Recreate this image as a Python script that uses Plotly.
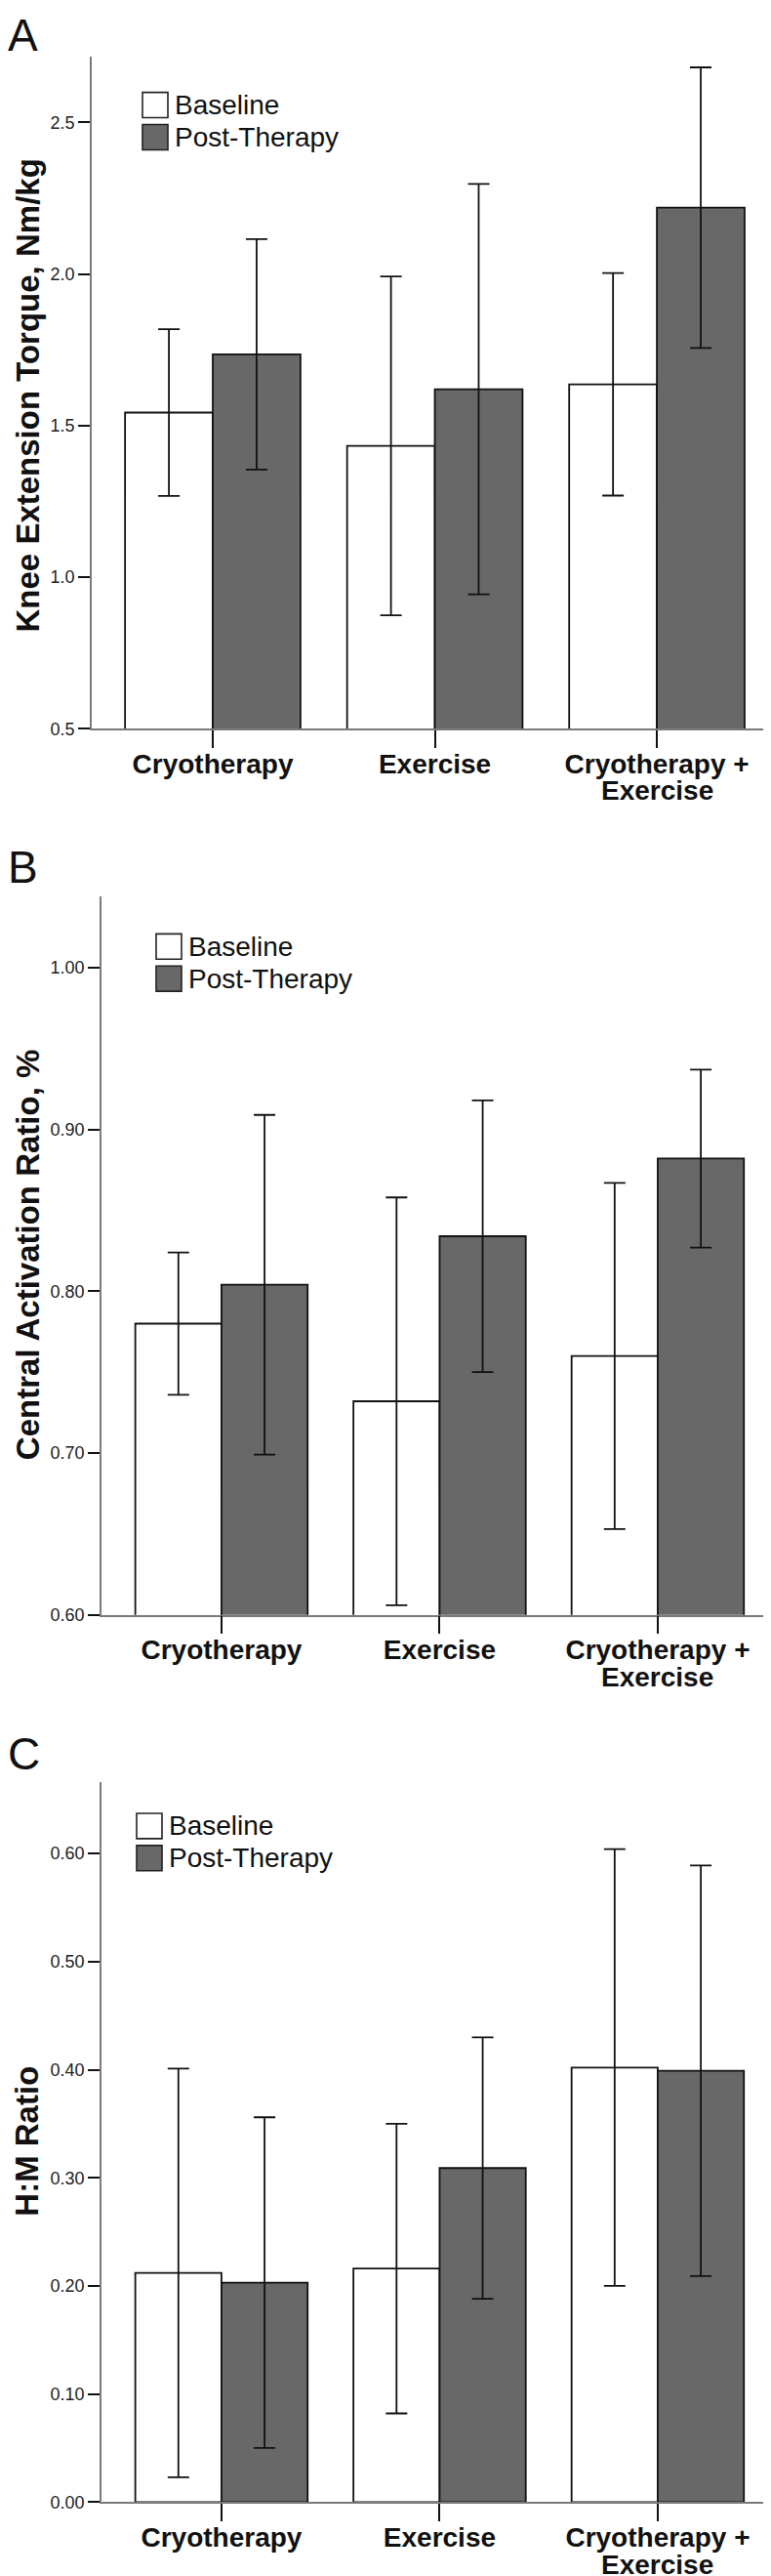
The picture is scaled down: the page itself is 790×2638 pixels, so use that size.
import plotly.graph_objects as go

# ---------------- data ----------------
categories = ["Cryotherapy", "Exercise", "Cryotherapy +<br>Exercise"]
series_names = ["Baseline", "Post-Therapy"]

torque_baseline = [1.543, 1.433, 1.636]
torque_baseline_err = [0.275, 0.559, 0.367]
torque_post = [1.735, 1.620, 2.219]
torque_post_err = [0.380, 0.677, 0.463]

car_baseline = [0.780, 0.732, 0.760]
car_baseline_err = [0.044, 0.126, 0.107]
car_post = [0.804, 0.834, 0.882]
car_post_err = [0.105, 0.084, 0.055]

hm_baseline = [0.212, 0.216, 0.402]
hm_baseline_err = [0.189, 0.134, 0.202]
hm_post = [0.203, 0.309, 0.399]
hm_post_err = [0.153, 0.121, 0.190]

panel_letters = ["A", "B", "C"]
y_titles = ["Knee Extension Torque, Nm/kg", "Central Activation Ratio, %", "H:M Ratio"]
y_ticks_A = [0.5, 1.0, 1.5, 2.0, 2.5]
y_ticks_B = [0.60, 0.70, 0.80, 0.90, 1.00]
y_ticks_C = [0.00, 0.10, 0.20, 0.30, 0.40, 0.50, 0.60]

# ---------------- layout helpers ----------------
W, H = 790, 2638
FONT = "Liberation Sans, Arial, Helvetica, sans-serif"
BASE_FILL = "#ffffff"
POST_FILL = "#686868"

# first line of each category label goes on the axis, extra lines below it
first_lines = [c.split("<br>")[0] for c in categories]
extra_lines = [c.split("<br>")[1:] for c in categories]


def px_x(x):
    return x / W


def px_y(y):
    return 1 - y / H


panels = [
    dict(vals=(torque_baseline, torque_baseline_err, torque_post, torque_post_err),
         left=86, top=50, bottom=741, yr=[0.5, 2.718], ticks=y_ticks_A, fmt=".1f",
         xr=[-0.545, 2.549], legend=(138, 87), letter_y=0, title_y=399),
    dict(vals=(car_baseline, car_baseline_err, car_post, car_post_err),
         left=96, top=913, bottom=1652, yr=[0.6, 1.0443], ticks=y_ticks_B, fmt=".2f",
         xr=[-0.55, 2.555], legend=(152, 952), letter_y=855, title_y=1282),
    dict(vals=(hm_baseline, hm_baseline_err, hm_post, hm_post_err),
         left=96, top=1824, bottom=2564, yr=[0.0, 0.666], ticks=y_ticks_C, fmt=".2f",
         xr=[-0.55, 2.555], legend=(132, 1856), letter_y=1767, title_y=2193),
]

fig = go.Figure()
shapes = []
annotations = []

for i, p in enumerate(panels):
    n = "" if i == 0 else str(i + 1)
    xa, ya = "x" + n, "y" + n
    b, be, po, poe = p["vals"]
    for name, vals, errs, fill in [(series_names[0], b, be, BASE_FILL),
                                   (series_names[1], po, poe, POST_FILL)]:
        fig.add_trace(go.Bar(
            x=[0, 1, 2], y=vals, name=name, xaxis=xa, yaxis=ya,
            marker=dict(color=fill, line=dict(color="#111111", width=1.8)),
            error_y=dict(type="data", array=errs, symmetric=True, color="#111111",
                         thickness=1.8, width=11),
            showlegend=False,
        ))
    axis_common = dict(showgrid=False, zeroline=False, showline=True,
                       linecolor="#7a7a7a", linewidth=1.5)
    fig.layout["xaxis" + n] = dict(
        domain=[px_x(p["left"]), 1.0], anchor=ya, range=p["xr"],
        tickmode="array", tickvals=[0, 1, 2], ticktext=first_lines,
        ticks="outside", ticklen=18, tickwidth=1.8, tickcolor="#111111",
        ticklabelstandoff=-8,
        tickfont=dict(family=FONT, size=28, color="#111111", weight="bold"),
        **axis_common)
    fig.layout["yaxis" + n] = dict(
        domain=[px_y(p["bottom"]), px_y(p["top"])], anchor=xa, range=p["yr"],
        tickmode="array", tickvals=p["ticks"], tickformat=p["fmt"],
        ticks="outside", ticklen=12, tickwidth=2.2, tickcolor="#111111",
        tickfont=dict(family=FONT, size=18, color="#222222"),
        **axis_common)

    # y-axis title
    annotations.append(dict(text=y_titles[i], xref="paper", yref="paper",
                            x=px_x(20), y=px_y(p["title_y"]), textangle=-90,
                            xanchor="center", yanchor="middle", showarrow=False,
                            font=dict(family=FONT, size=33, color="#111111", weight="bold")))

    # second lines of category labels
    for ci, extra in enumerate(extra_lines):
        for li, line in enumerate(extra):
            annotations.append(dict(text=line, xref=xa, yref="paper", x=ci,
                                    y=px_y(p["bottom"] + 64 + 28 * li),
                                    xanchor="center", yanchor="middle", showarrow=False,
                                    font=dict(family=FONT, size=28, color="#111111",
                                              weight="bold")))

    # panel letter
    annotations.append(dict(text=panel_letters[i], xref="paper", yref="paper",
                            x=px_x(-2), y=px_y(p["letter_y"]), xanchor="left", yanchor="top",
                            showarrow=False, font=dict(family=FONT, size=46, color="#111111")))
    # legend (swatch + text)
    lx, ly = p["legend"]
    for k, (name, fill) in enumerate([(series_names[0], BASE_FILL), (series_names[1], POST_FILL)]):
        top = ly + 33 * k
        shapes.append(dict(type="rect", xref="paper", yref="paper",
                           x0=px_x(lx), x1=px_x(lx + 26), y0=px_y(top + 26), y1=px_y(top),
                           fillcolor=fill, line=dict(color="#222222", width=1.6)))
        annotations.append(dict(text=name, xref="paper", yref="paper",
                                x=px_x(lx + 31), y=px_y(top + 13), xanchor="left", yanchor="middle",
                                showarrow=False, font=dict(family=FONT, size=28, color="#111111")))

fig.update_layout(
    width=W, height=H, margin=dict(l=0, r=0, t=0, b=0),
    paper_bgcolor="white", plot_bgcolor="white",
    barmode="group", bargap=0.21, bargroupgap=0.0,
    shapes=shapes, annotations=annotations, showlegend=False,
)

fig.write_html("out.html")
